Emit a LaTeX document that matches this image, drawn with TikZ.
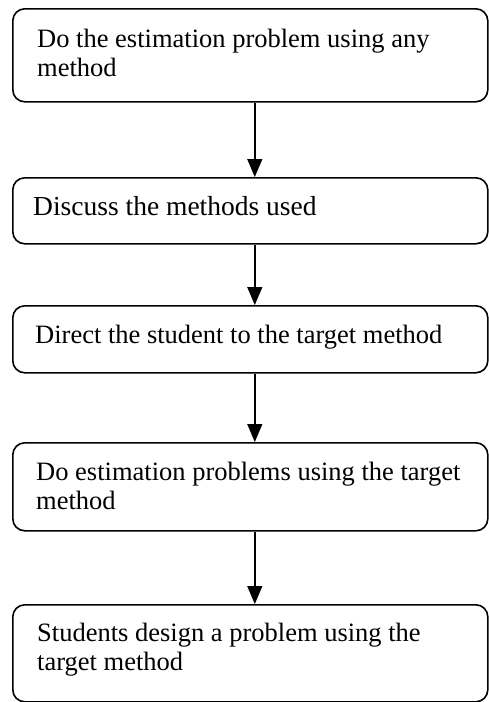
\documentclass[tikz,border=0pt]{standalone}
\usepackage{fontspec}
\setmainfont{Liberation Serif}
\usetikzlibrary{arrows.meta}
\begin{document}
\begin{tikzpicture}[x=1pt,y=-1pt,
  box/.style={draw=black, line width=1.6pt, rounded corners=12pt, minimum width=475pt, inner sep=0pt, anchor=north west},
  txt/.style={anchor=base west, inner sep=0pt, font=\fontsize{26.5}{29}\selectfont},
  txtbig/.style={anchor=base west, inner sep=0pt, font=\fontsize{27.5}{30}\selectfont},
  arr/.style={line width=1.4pt, -{Triangle[length=18pt,width=15pt]}}]
\useasboundingbox (0,0) rectangle (488,702);
% boxes
\node[box, minimum height=93pt] (b1) at (12,8) {};
\node[box, minimum height=66pt] (b2) at (12,177) {};
\node[box, minimum height=67pt] (b3) at (12,305) {};
\node[box, minimum height=88pt] (b4) at (12,442) {};
\node[box, minimum height=97pt] (b5) at (12,604) {};
% texts
\node[txt] (t1a) at (37,47) {Do the estimation problem using any};
\node[txt] (t1b) at (37,76) {method};
\node[txtbig] (t2) at (33,215) {Discuss the methods used};
\node[txt] (t3) at (35,343) {Direct the student to the target method};
\node[txt] (t4a) at (36,480) {Do estimation problems using the target};
\node[txt] (t4b) at (36,509) {method};
\node[txt] (t5a) at (37,641) {Students design a problem using the};
\node[txt] (t5b) at (37,670) {target method};
% connectors
\draw[arr] ([xshift=4.5pt]b1.south) -- ([xshift=4.5pt]b2.north);
\draw[arr] ([xshift=4.5pt]b2.south) -- ([xshift=4.5pt]b3.north);
\draw[arr] ([xshift=4.5pt]b3.south) -- ([xshift=4.5pt]b4.north);
\draw[arr] ([xshift=4.5pt]b4.south) -- ([xshift=4.5pt]b5.north);
\end{tikzpicture}
\end{document}
